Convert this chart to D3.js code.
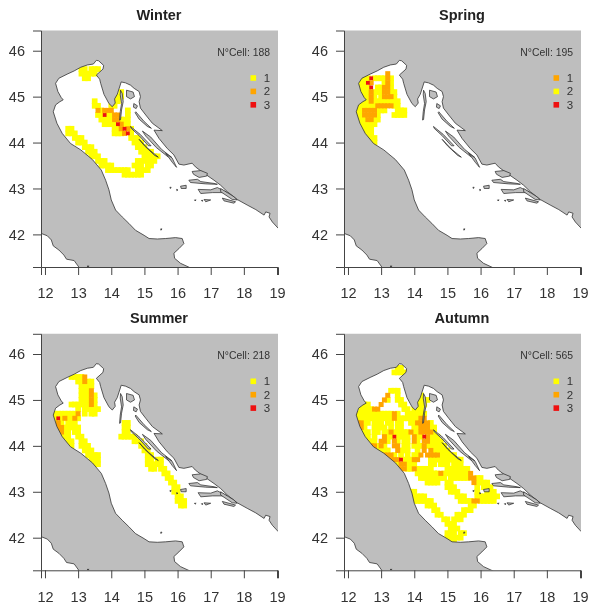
<!DOCTYPE html>
<html>
<head>
<meta charset="utf-8">
<script src="https://cdn.jsdelivr.net/npm/d3@7"></script>
<style>
  html, body { margin: 0; padding: 0; background: #fff; }
  text { font-family: "Liberation Sans", Arial, sans-serif; }
  svg { filter: blur(0.35px); }
</style>
</head>
<body>
<script>
const WIDTH = 595
const HEIGHT = 613
// size of the squares, yellow is drawn larger than orange and red
const cellSizes = [5.7, 5, 3.8]

//------- Data -------
const seasons = ["Winter", "Spring", "Summer", "Autumn"]
const cellCounts = [188, 195, 218, 565]
const lonTicks = [12, 13, 14, 15, 16, 17, 18, 19]
const latTicks = [42, 43, 44, 45, 46]
const legendLevels = [1, 2, 3]
const cellColors = ["#FFFF00", "#FFA500", "#EE1010"]
// the Spring legend has 1 and 2 swapped
const legendColors = ["#FFFF00", "#FFA500", "#EE1010"]
const springLegendColors = ["#FFA500", "#FFFF00", "#EE1010"]

// rows of cells: [lat, yellow lons, orange lons, red lons]
const winterRows = [
  [45.6, [13.1,13.2,13.4,13.5,13.6], [], []],
  [45.5, [13.1,13.2,13.3,13.4,13.5], [], []],
  [45.4, [13.2,13.3], [], []],
  [45.1, [14.3], [], []],
  [45.0, [14.2,14.3], [], []],
  [44.9, [13.5,14.1,14.2], [], []],
  [44.8, [13.5,13.6,14.0,14.1], [], []],
  [44.7, [13.7,14.5], [13.6,13.8,13.9,14.0], []],
  [44.6, [13.6,13.7,13.9,14.0,14.5], [14.1,14.2], [13.8]],
  [44.5, [13.7,13.8,13.9,14.0,14.3,14.4,14.5], [14.1,14.2], []],
  [44.4, [13.8,13.9,14.0,14.1,14.4,14.5], [14.3], [14.2]],
  [44.3, [12.7,12.8,14.1,14.2,14.6], [14.3,14.5], [14.4]],
  [44.2, [12.7,12.8,12.9,14.1,14.2,14.3,14.6], [14.4], [14.5]],
  [44.1, [12.9,13.0,13.1,14.6,14.7,14.8], [], []],
  [44.0, [13.0,13.1,13.2,14.7,14.8,14.9], [], []],
  [43.9, [13.2,13.3,13.4,14.8,14.9,15.0], [], []],
  [43.8, [13.3,13.4,13.5,14.9,15.0,15.1,15.2], [], []],
  [43.7, [13.4,13.5,13.6,15.0,15.1,15.2,15.3,15.4], [], []],
  [43.6, [13.6,13.7,13.8,14.8,14.9,15.0,15.1,15.2,15.3], [], []],
  [43.5, [13.7,13.8,13.9,14.0,14.7,14.8,14.9,15.1,15.2], [], []],
  [43.4, [13.9,14.0,14.1,14.2,14.3,14.4,14.5,14.8,14.9,15.0,15.1], [], []],
  [43.3, [14.4,14.5,14.6,14.7,14.8,14.9], [], []]
]
const springRows = [
  [45.5, [], [13.2], []],
  [45.4, [12.4,12.5,12.6,12.8,12.9,13.0,13.1,13.3], [13.2], [12.7]],
  [45.3, [12.4,12.5,13.1,13.3], [12.7,13.2], [12.6]],
  [45.2, [12.4,12.5,12.6,12.9,13.0,13.3], [13.1,13.2], [12.7]],
  [45.1, [12.4,12.5,12.6,12.8,12.9,13.0,13.3,13.4], [12.7,13.1,13.2], []],
  [45.0, [12.5,12.6,12.8,13.0,13.4], [12.7,13.1,13.2,13.3], []],
  [44.9, [12.4,12.5,12.6,12.8,12.9,13.0,13.1,13.2,13.3,13.4,13.5], [12.7], []],
  [44.8, [12.3,12.4,12.5,12.6,12.7,12.8,13.4,13.5], [12.9,13.0,13.1,13.2,13.3], []],
  [44.7, [12.3,12.4,12.9,13.0,13.1,13.5,13.6,13.7], [12.5,12.6,12.7,12.8], []],
  [44.6, [12.3,12.4,12.9,13.4,13.5,13.6,13.7], [12.5,12.6,12.7,12.8], []],
  [44.5, [12.3,12.4,12.5,12.8,12.9], [12.6,12.7], []],
  [44.4, [12.3,12.4,12.5,12.6,12.7,12.8], [], []],
  [44.3, [12.3,12.4,12.5,12.6,12.7], [], []],
  [44.2, [12.4,12.5,12.6,12.7], [], []],
  [44.1, [12.5,12.6,12.7,12.8], [], []],
  [44.0, [12.6,12.7,12.8], [], []]
]
const summerRows = [
  [45.5, [12.8,12.9,13.0,13.1], [13.2], []],
  [45.4, [13.0,13.1,13.3,13.4], [13.2], []],
  [45.3, [13.1,13.2,13.3,13.4], [], []],
  [45.2, [13.1,13.2,13.3], [13.4], []],
  [45.1, [13.1,13.2,13.3,13.5], [13.4], []],
  [45.0, [13.1,13.2,13.3,13.5], [13.4], []],
  [44.9, [12.8,12.9,13.0,13.1,13.2,13.3,13.5], [13.4], []],
  [44.8, [13.0,13.2,13.3,13.4,13.5,13.6], [], []],
  [44.7, [12.3,12.4,12.5,12.6,12.7,12.8,12.9,13.2,13.4,13.5], [13.0], []],
  [44.6, [12.3,12.5,12.7,12.8,13.0], [12.6,12.9], [12.4]],
  [44.5, [12.3,12.5,12.7,12.8,12.9,14.4,14.5], [12.4], []],
  [44.4, [12.3,12.6,12.7,12.8,12.9,13.0,14.4,14.5], [12.4,12.5], []],
  [44.3, [12.4,12.6,12.7,12.9,13.0,14.4,14.5], [12.5], []],
  [44.2, [12.5,12.6,12.7,13.0,13.1,14.3,14.4,14.5,14.6,14.7], [], []],
  [44.1, [12.7,12.8,13.1,13.2,14.7,14.8,14.9], [], []],
  [44.0, [12.8,13.1,13.2,13.3,14.9,15.0], [], []],
  [43.9, [13.2,13.3,13.4,15.0,15.1], [], []],
  [43.8, [13.3,13.4,13.5,13.6,15.1,15.2], [], []],
  [43.7, [13.4,13.5,13.6,15.1,15.2,15.4,15.5], [], []],
  [43.6, [13.5,13.6,15.1,15.2,15.3,15.4,15.5], [], []],
  [43.5, [15.2,15.3,15.5,15.6], [], []],
  [43.4, [15.6,15.7], [], []],
  [43.3, [15.7,15.8], [], []],
  [43.2, [15.8,15.9], [], []],
  [43.1, [15.9,16.0], [], []],
  [43.0, [15.9,16.0], [], []],
  [42.9, [16.0,16.1], [], []],
  [42.8, [16.0,16.1,16.2], [], []],
  [42.7, [16.1,16.2], [], []]
]
const autumnRows = [
  [45.7, [13.5,13.6], [], []],
  [45.6, [13.4,13.5,13.6,13.7], [], []],
  [45.2, [13.3,13.4,13.5], [], []],
  [45.1, [13.5,14.2], [13.2], []],
  [45.0, [13.2,13.5,13.6,14.2,14.3,14.4], [13.1], []],
  [44.9, [12.5,12.6,13.6,13.7,14.1,14.2,14.3], [13.0], []],
  [44.8, [12.4,12.5,12.6,12.7,13.7,13.8,14.0,14.1,14.2], [12.8,12.9], []],
  [44.7, [12.3,12.4,12.5,12.6,12.7,12.8,12.9,13.0,13.1,13.2,13.3,13.5,13.8,13.9,14.0,14.1,14.2,14.3], [13.4], []],
  [44.6, [12.3,12.4,12.5,12.6,12.7,12.8,12.9,13.0,13.1,13.2,13.3,13.5,13.6,13.7,13.8,13.9,14.0,14.1], [13.4,14.2,14.3], []],
  [44.5, [12.5,12.6,12.8,12.9,13.0,13.2,13.3,13.5,13.6,13.9,14.0,14.5], [12.3,12.4,14.1,14.2,14.3,14.4], []],
  [44.4, [12.5,12.8,12.9,13.0,13.1,13.3,13.5,13.6,14.0,14.1,14.5,14.6], [12.3,12.4,14.2,14.3,14.4], []],
  [44.3, [12.4,12.5,12.6,12.8,12.9,13.1,13.2,13.4,13.5,13.6,13.7,13.8,14.0,14.1,14.6], [13.3,13.9,14.2,14.3,14.4,14.5], []],
  [44.2, [12.5,12.6,12.8,13.2,13.3,13.5,13.6,13.7,13.8,14.1,14.2,14.5,14.6,14.7], [13.1,14.0,14.4], [13.4,14.3]],
  [44.1, [12.6,12.7,12.8,13.2,13.5,13.7,13.8,14.1,14.5,14.6,14.7,14.8], [12.5,13.0,13.1,13.4,14.0,14.3,14.4], []],
  [44.0, [12.9,13.1,13.7,13.8,14.0,14.1,14.2,14.4,14.5,14.6,14.7,14.8,14.9], [12.7,12.8,13.0,13.4,13.5,14.3], []],
  [43.9, [12.9,13.0,13.1,13.2,13.6,13.7,13.8,14.1,14.6,14.7,14.8,14.9,15.0], [13.5,14.3,14.5], []],
  [43.8, [13.4,13.6,13.8,14.0,14.1,14.8,14.9,15.0,15.1,15.2], [13.1,13.2,13.3,14.2,14.4,14.5,14.6,14.7], []],
  [43.7, [13.7,13.8,13.9,14.5,14.6,14.7,14.8,14.9,15.0,15.1,15.2,15.3,15.4], [13.3,13.4,13.5,14.0,14.1], [13.6]],
  [43.6, [13.5,13.8,13.9,14.0,14.5,14.6,14.8,14.9,15.0,15.2,15.3,15.4], [13.6,13.7], []],
  [43.5, [13.8,13.9,14.1,14.2,14.3,14.4,14.5,15.0,15.1,15.2,15.3,15.4,15.5,15.6], [13.6,13.7,14.0], []],
  [43.4, [14.1,14.2,14.3,14.4,14.5,14.6,14.7,14.9,15.0,15.1,15.2,15.3,15.4,15.5,15.6], [14.8,15.7], []],
  [43.3, [14.2,14.3,14.4,14.5,14.6,14.7,14.8,14.9,15.1,15.2,15.3,15.4,15.5,15.6,15.9,16.0], [15.7,15.8], []],
  [43.2, [14.4,14.5,14.6,14.7,15.0,15.1,15.9,16.0,16.1,16.2], [15.8], []],
  [43.1, [15.0,15.1,15.2,15.9,16.1,16.2,16.3], [], []],
  [43.0, [13.9,14.0,15.1,15.2,15.3,15.9,16.2,16.3,16.4], [], []],
  [42.9, [13.9,14.0,14.1,14.2,14.3,15.3,15.4,15.5,15.9,16.0,16.1,16.2,16.3,16.4,16.5], [], []],
  [42.8, [14.0,14.1,14.2,14.3,14.4,14.5,15.4,15.5,15.6,15.7,16.0,16.1,16.2,16.3,16.4], [15.8,15.9], []],
  [42.7, [14.4,14.5,14.6,15.7,15.8], [], []],
  [42.6, [14.6,14.7,15.5,15.6,15.7], [], []],
  [42.5, [14.7,14.8,15.3,15.4,15.5], [], []],
  [42.4, [14.9,15.0,15.2,15.3,15.4], [], []],
  [42.3, [15.0,15.1,15.2], [], []],
  [42.2, [15.1,15.2,15.3], [], []],
  [42.1, [15.0,15.1,15.2,15.4,15.5], [], []],
  [42.0, [15.0,15.1,15.2,15.3,15.4], [], []],
  [41.9, [15.1,15.2], [], []]
]
const seasonRows = [winterRows, springRows, summerRows, autumnRows]
const seasonLegends = [legendColors, springLegendColors, legendColors, legendColors]

// land outline, lon lat: Tyrrhenian side, Adriatic side going north, then the Balkan coast
const tyrrhenianCoast = [[11.5,42.03],[11.89,42.02],[12.07,41.97],[12.19,41.88],[12.25,41.75],[12.42,41.66],[12.57,41.55],[12.65,41.46],[12.88,41.43],[13.03,41.28],[13.03,41.1]]
const italianCoast = [[16.45,41.1],[16.39,41.27],[16.09,41.37],[15.91,41.48],[15.89,41.59],[16.04,41.69],[16.19,41.80],[16.14,41.91],[15.94,41.93],[15.64,41.91],[15.39,41.90],[15.14,41.91],[14.99,41.98],[14.73,42.09],[14.53,42.24],[14.33,42.38],[14.13,42.53],[14.0,42.75],[13.93,42.97],[13.83,43.18],[13.70,43.40],[13.43,43.63],[13.08,43.84],[12.77,43.98],[12.52,44.20],[12.36,44.42],[12.25,44.67],[12.32,44.82],[12.45,44.89],[12.55,44.93],[12.49,44.98],[12.39,45.11],[12.32,45.29],[12.42,45.40],[12.67,45.49],[12.88,45.56],[13.08,45.64],[13.28,45.69],[13.46,45.71]]
const balkanCoast = [[13.55,45.79],[13.62,45.78],[13.77,45.68],[13.75,45.60],[13.55,45.47],[13.65,45.38],[13.68,45.29],[13.78,45.05],[13.93,44.85],[14.03,44.78],[14.12,44.86],[14.10,44.95],[14.18,45.05],[14.30,45.32],[14.43,45.30],[14.58,45.25],[14.69,45.18],[14.84,45.11],[14.88,45.0],[14.84,44.89],[14.88,44.75],[15.04,44.60],[15.24,44.42],[15.54,44.26],[15.29,44.27],[15.44,44.09],[15.69,43.87],[15.89,43.73],[16.04,43.53],[16.19,43.51],[16.44,43.55],[16.54,43.47],[16.80,43.33],[17.10,43.18],[17.30,43.07],[17.50,42.93],[17.80,42.76],[18.10,42.64],[18.36,42.54],[18.61,42.42],[18.66,42.49],[18.79,42.46],[18.76,42.38],[18.86,42.27],[19.04,42.13],[19.4,42.0],[19.4,46.7],[11.5,46.7]]
const islands = [
  [[14.28,45.14],[14.33,45.07],[14.36,44.89],[14.31,44.71],[14.28,44.50],[14.25,44.49],[14.27,44.67],[14.31,44.85],[14.27,45.04]],
  [[14.46,45.14],[14.66,45.10],[14.70,45.0],[14.58,44.95],[14.46,45.0]],
  [[14.68,44.85],[14.79,44.80],[14.75,44.74],[14.67,44.77]],
  [[14.74,44.67],[14.99,44.46],[15.21,44.31],[15.09,44.35],[14.84,44.51],[14.72,44.65]],
  [[14.58,44.35],[14.87,44.18],[15.20,43.93],[15.12,43.93],[14.84,44.15],[14.60,44.31]],
  [[14.94,44.25],[15.19,44.12],[15.52,43.85],[15.82,43.68],[15.71,43.69],[15.36,43.89],[15.04,44.14]],
  [[14.84,44.07],[15.12,43.86],[15.42,43.68],[15.31,43.72],[15.0,43.93]],
  [[15.64,43.77],[15.84,43.66],[15.97,43.46],[15.84,43.57]],
  [[16.44,43.37],[16.70,43.39],[16.90,43.33],[16.88,43.27],[16.65,43.24],[16.48,43.31]],
  [[16.34,43.18],[16.60,43.20],[16.70,43.15],[17.10,43.11],[17.20,43.09],[16.85,43.10],[16.39,43.13]],
  [[16.62,42.98],[17.0,42.97],[17.20,43.02],[17.50,42.91],[17.05,42.91],[16.70,42.89]],
  [[17.30,43.0],[17.70,42.82],[17.80,42.75],[17.65,42.76],[17.30,42.93]],
  [[17.35,42.79],[17.75,42.71],[17.70,42.68],[17.40,42.73]],
  [[16.80,42.76],[17.0,42.75],[16.85,42.71]],
  [[16.09,43.05],[16.26,43.07],[16.26,43.0],[16.11,43.0]],
  [[16.51,42.75],[16.56,42.75],[16.53,42.73]],
  [[16.72,42.74],[16.77,42.74],[16.74,42.72]],
  [[15.97,42.98],[16.01,42.97],[15.98,42.95]],
  [[15.77,43.03],[15.81,43.02],[15.78,43.0]],
  [[15.49,42.12],[15.53,42.12],[15.5,42.09]],
  [[13.27,41.31],[13.33,41.31],[13.3,41.29]]
]

//------- Scales -------
const x = d3.scaleLinear().domain([11.88, 19.03]).range([41, 278])
const y = d3.scaleLinear().domain([41.29, 46.44]).range([267, 30.5])
const line = d3.line().x(d => x(d[0])).y(d => y(d[1]))
const landOutline = tyrrhenianCoast.concat(italianCoast, balkanCoast)

const svg = d3.select("body")
  .append("svg")
  .attr("width", WIDTH)
  .attr("height", HEIGHT)

svg.append("clipPath").attr("id", "plot-clip")
  .append("rect")
  .attr("x", x.range()[0])
  .attr("y", y.range()[1])
  .attr("width", x.range()[1] - x.range()[0])
  .attr("height", y.range()[0] - y.range()[1])

//------- Panels -------
seasons.forEach((season, i) => {
  const dx = i % 2 === 1 ? 303 : 0
  const dy = i > 1 ? 303.3 : 0
  const panel = svg.append("g").attr("transform", `translate(${dx},${dy})`)

  const cells = seasonRows[i].flatMap(r =>
    [1, 2, 3].flatMap(l => r[l].map(lon => ({ lon: lon, lat: r[0], rank: l })))
  ).sort((a, b) => a.rank - b.rank)

  const plot = panel.append("g").attr("clip-path", "url(#plot-clip)")

  // fixed size squares like R points, wider than the 0.1 degree grid
  plot.selectAll("rect.cell")
    .data(cells)
    .enter()
    .append("rect")
    .attr("class", "cell")
    .attr("x", d => x(d.lon) - cellSizes[d.rank - 1] / 2)
    .attr("y", d => y(d.lat) - cellSizes[d.rank - 1] / 2)
    .attr("width", d => cellSizes[d.rank - 1])
    .attr("height", d => cellSizes[d.rank - 1])
    .attr("fill", d => cellColors[d.rank - 1])

  plot.append("path")
    .attr("d", line(landOutline) + "Z")
    .attr("fill", "#BEBEBE")
    .attr("stroke", "#333")
    .attr("stroke-width", 0.8)

  plot.selectAll("path.island")
    .data(islands)
    .enter()
    .append("path")
    .attr("class", "island")
    .attr("d", d => line(d) + "Z")
    .attr("fill", "#BEBEBE")
    .attr("stroke", "#222")
    .attr("stroke-width", 0.7)

  // axes, only left and bottom as in the original
  const xAxis = panel.append("g")
    .attr("transform", `translate(0,${y.range()[0]})`)
    .call(d3.axisBottom(x).tickValues(lonTicks).tickFormat(d3.format("d")).tickSizeOuter(0).tickSize(8).tickPadding(13))
  const yAxis = panel.append("g")
    .attr("transform", `translate(${x.range()[0]},0)`)
    .call(d3.axisLeft(y).tickValues(latTicks).tickFormat(d3.format("d")).tickSizeOuter(0).tickSize(8).tickPadding(8))
  for (const axis of [xAxis, yAxis]) {
    axis.selectAll("path, line").attr("stroke", "#444").attr("stroke-width", 1)
    axis.selectAll("text")
      .attr("fill", "#333")
      .style("font-size", "14.5px")
      .style("font-family", '"Liberation Sans", Arial, sans-serif')
  }

  panel.append("text")
    .attr("x", 159)
    .attr("y", 20)
    .attr("text-anchor", "middle")
    .attr("font-weight", "bold")
    .attr("font-size", 14.5)
    .attr("fill", "#222")
    .text(season)

  panel.append("text")
    .attr("x", 270)
    .attr("y", 55.5)
    .attr("text-anchor", "end")
    .attr("font-size", 10.4)
    .attr("fill", "#333")
    .text("N°Cell: " + cellCounts[i])

  // legend
  const legend = panel.selectAll("g.legend")
    .data(legendLevels)
    .enter()
    .append("g")
    .attr("class", "legend")
    .attr("transform", (d, j) => `translate(253.3,${78 + j * 13.4})`)
  legend.append("rect")
    .attr("x", -2.8)
    .attr("y", -2.8)
    .attr("width", 5.6)
    .attr("height", 5.6)
    .attr("fill", (d, j) => seasonLegends[i][j])
  legend.append("text")
    .attr("x", 10.5)
    .attr("y", 4)
    .attr("font-size", 11.5)
    .attr("fill", "#333")
    .text(d => d)
})
</script>
</body>
</html>
